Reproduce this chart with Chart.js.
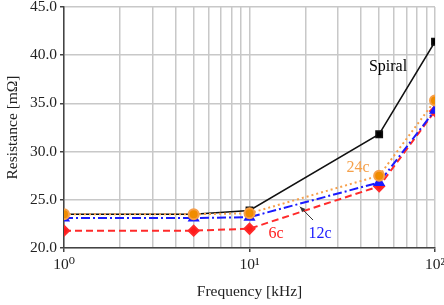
<!DOCTYPE html>
<html><head><meta charset="utf-8">
<script src="https://cdn.jsdelivr.net/npm/chart.js@4/dist/chart.umd.min.js"></script>
<style>html,body{margin:0;padding:0;background:#fff}#wrap{width:444px;height:305px}</style>
</head><body><div id="wrap"><canvas id="c"></canvas></div>
<script>
const frequencies = [1, 5, 10, 50, 100];
const spiral = [23.5, 23.5, 23.9, 31.8, 41.4];
const c24 = [23.5, 23.5, 23.6, 27.5, 35.3];
const c12 = [23.1, 23.1, 23.2, 26.8, 34.3];
const c6 = [21.8, 21.8, 22.0, 26.4, 34.2];
const xTicks = [1,2,3,4,5,6,7,8,9,10,20,30,40,50,60,70,80,90,100];
const xTickLabels = {1:'10\u2070', 10:'10\u00b9', 100:'10\u00b2'};
const yTicks = [20, 25, 30, 35, 40, 45];
const labels = [
  {text:'Spiral', x:55.8, y:38.8, color:'#000'},
  {text:'24c', x:38.5, y:28.3, color:'#f5a04a'},
  {text:'6c', x:13.9, y:21.45, color:'#ff2020'},
  {text:'12c', x:24, y:21.45, color:'#1a1aff'}
];
const arrowFrom = {x:22, y:22.9};
const arrowTo = {x:18.7, y:24.28};

const serif = "'Liberation Serif', 'DejaVu Serif', serif";
function pts(arr){ return frequencies.map((f,i)=>({x:f, y:arr[i]})); }

const annot = {
  id:'annot',
  afterDatasetsDraw(chart){
    const {ctx, scales:{x, y}} = chart;
    ctx.save();
    ctx.font = "16px " + serif;
    ctx.textAlign = 'center'; ctx.textBaseline = 'middle';
    labels.forEach(l => { ctx.fillStyle = l.color; ctx.fillText(l.text, x.getPixelForValue(l.x), y.getPixelForValue(l.y)); });
    const x1 = x.getPixelForValue(arrowFrom.x), y1 = y.getPixelForValue(arrowFrom.y);
    const x2 = x.getPixelForValue(arrowTo.x), y2 = y.getPixelForValue(arrowTo.y);
    ctx.strokeStyle = '#333'; ctx.fillStyle = '#333'; ctx.lineWidth = 1;
    ctx.beginPath(); ctx.moveTo(x1,y1); ctx.lineTo(x2,y2); ctx.stroke();
    const a = Math.atan2(y2-y1, x2-x1), L = 6, W = 0.4;
    ctx.beginPath(); ctx.moveTo(x2,y2);
    ctx.lineTo(x2 - L*Math.cos(a-W), y2 - L*Math.sin(a-W));
    ctx.lineTo(x2 - L*Math.cos(a+W), y2 - L*Math.sin(a+W));
    ctx.closePath(); ctx.fill();
    ctx.restore();
  }
};

new Chart(document.getElementById('c'), {
  type:'line',
  data:{datasets:[
    {label:'24c', data:pts(c24), borderColor:'#f7a04a', backgroundColor:'#f08c00', borderDash:[2,3], borderWidth:2, pointStyle:'circle', pointRadius:5},
    {label:'12c', data:pts(c12), borderColor:'#1a1aff', backgroundColor:'#1a1aff', borderDash:[9,3,2,3], borderWidth:2, pointStyle:'triangle', pointRadius:5},
    {label:'6c', data:pts(c6), borderColor:'#ff2a2a', backgroundColor:'#ff1a1a', borderDash:[7,4], borderWidth:2, pointStyle:'rectRot', pointRadius:5},
    {label:'Spiral', data:pts(spiral), borderColor:'#111', backgroundColor:'#000', borderWidth:1.5, pointStyle:'rect', pointRadius:4.5}
  ]},
  options:{
    responsive:true, maintainAspectRatio:false, animation:false,
    layout:{padding:0},
    plugins:{legend:{display:false}, tooltip:{enabled:false}},
    scales:{
      x:{type:'logarithmic', min:1, max:100,
        afterBuildTicks(s){ s.ticks = xTicks.map(v=>({value:v})); },
        afterFit(s){ s.height = 57; s.paddingRight = 9; s.paddingLeft = 0; },
        ticks:{autoSkip:false, maxRotation:0, color:'#222', font:{family:serif, size:15.5}, padding:4,
          callback:(v)=> xTickLabels[v] || ''},
        grid:{color:'#c8c8c8', lineWidth:1.5, tickLength:4, tickColor:(c)=> xTickLabels[c.tick && c.tick.value] ? '#444' : 'rgba(0,0,0,0)'},
        border:{color:'#444', width:1.5},
        title:{display:true, text:'Frequency [kHz]', color:'#222', font:{family:serif, size:15.5}, padding:{top:0}}
      },
      y:{min:20, max:45,
        afterBuildTicks(s){ s.ticks = yTicks.map(v=>({value:v})); },
        afterFit(s){ s.width = 64; s.paddingTop = 7; s.paddingBottom = 0; },
        ticks:{color:'#222', font:{family:serif, size:15.5}, padding:3, callback:(v)=> Number(v).toFixed(1)},
        grid:{color:'#c8c8c8', lineWidth:1.5, tickLength:4, tickColor:'#444'},
        border:{color:'#444', width:1.5},
        title:{display:true, text:'Resistance [m\u03a9]', color:'#222', font:{family:serif, size:15.5}, padding:{bottom:0, top:4}}
      }
    }
  },
  plugins:[annot]
});
</script></body></html>
